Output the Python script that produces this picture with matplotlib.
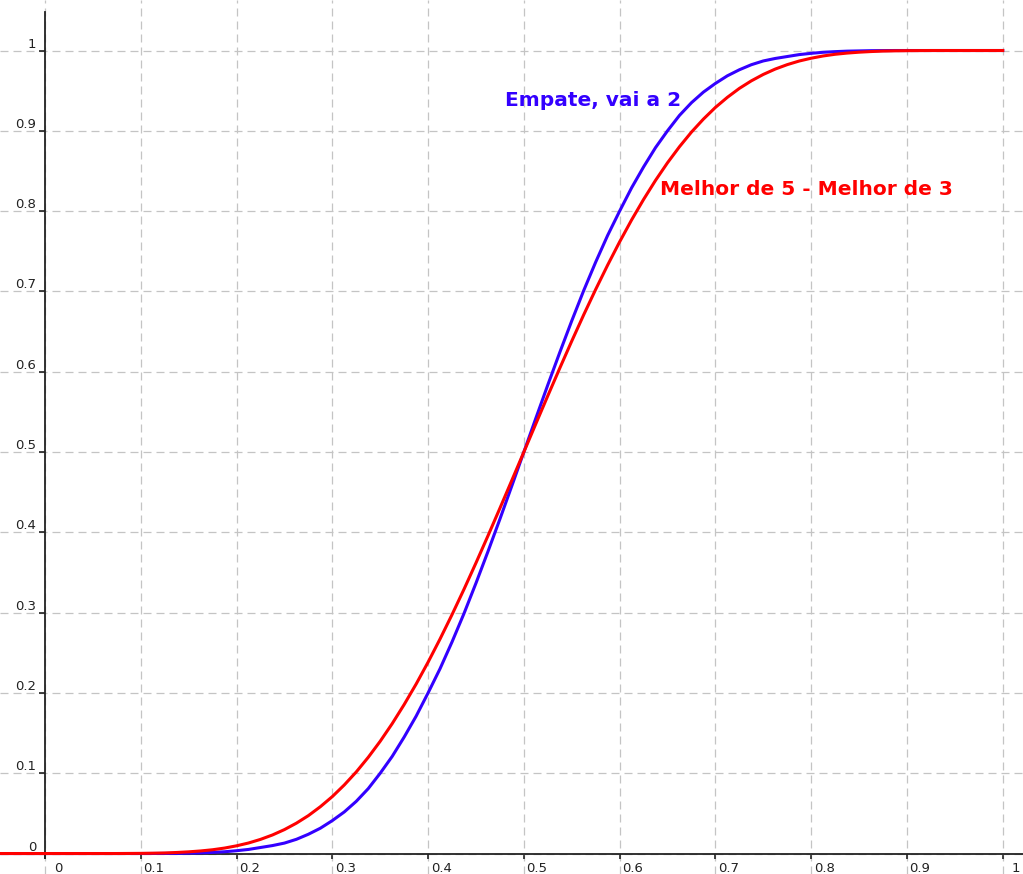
import matplotlib
matplotlib.use("Agg")
import matplotlib.pyplot as plt
from matplotlib.transforms import ScaledTranslation

# probabilities (finer steps where the curves bend)
p = [-0.05, 0.0, 0.025, 0.05, 0.075,
     0.1, 0.1125, 0.125, 0.1375, 0.15, 0.1625, 0.175, 0.1875,
     0.2, 0.2125, 0.225, 0.2375, 0.25, 0.2625, 0.275, 0.2875,
     0.3, 0.3125, 0.325, 0.3375, 0.35, 0.3625, 0.375, 0.3875,
     0.4, 0.4125, 0.425, 0.4375, 0.45, 0.4625, 0.475, 0.4875,
     0.5, 0.5125, 0.525, 0.5375, 0.55, 0.5625, 0.575, 0.5875,
     0.6, 0.6125, 0.625, 0.6375, 0.65, 0.6625, 0.675, 0.6875,
     0.7, 0.7125, 0.725, 0.7375, 0.75, 0.7625, 0.775, 0.7875,
     0.8, 0.8125, 0.825, 0.8375, 0.85, 0.8625, 0.875, 0.8875,
     0.9, 0.925, 0.95, 0.975, 1.0]
empate = [0.0, 0.0, 0.0, 0.0, 0.0,
          0.0, 0.00005, 0.0001, 0.0002, 0.0005, 0.0008, 0.0014, 0.0022,
          0.0035, 0.0051, 0.0075, 0.0099, 0.013, 0.0177, 0.024, 0.0315,
          0.041, 0.0518, 0.065, 0.0808, 0.1, 0.1209, 0.145, 0.171,
          0.2, 0.2302, 0.2635, 0.2989, 0.3367, 0.376, 0.4165, 0.458,
          0.5, 0.542, 0.5835, 0.624, 0.6633, 0.7011, 0.7365, 0.7698,
          0.8, 0.829, 0.855, 0.8791, 0.9, 0.9192, 0.935, 0.9482,
          0.959, 0.9685, 0.976, 0.9823, 0.987, 0.9901, 0.9925, 0.9949,
          0.9965, 0.9978, 0.9986, 0.9992, 0.9995, 0.9998, 0.9999, 1.0,
          1.0, 1.0, 1.0, 1.0, 1.0]
melhor = [0.0, 0.0, 0.0, 0.0, 0.0,
          0.0002, 0.0004, 0.0007, 0.0013, 0.0021, 0.0032, 0.0047, 0.0068,
          0.0096, 0.0131, 0.0176, 0.0231, 0.0298, 0.0378, 0.0472, 0.0583,
          0.0709, 0.0854, 0.1016, 0.1198, 0.1398, 0.1617, 0.1855, 0.211,
          0.2383, 0.2672, 0.2975, 0.3291, 0.3619, 0.3956, 0.43, 0.4649,
          0.5, 0.5351, 0.57, 0.6044, 0.6381, 0.6709, 0.7025, 0.7328,
          0.7617, 0.789, 0.8145, 0.8383, 0.8602, 0.8802, 0.8984, 0.9146,
          0.9291, 0.9417, 0.9528, 0.9622, 0.9702, 0.9769, 0.9824, 0.9869,
          0.9904, 0.9932, 0.9953, 0.9968, 0.9979, 0.9987, 0.9993, 0.9996,
          0.9998, 1.0, 1.0, 1.0, 1.0]

ticks = [0, 0.1, 0.2, 0.3, 0.4, 0.5, 0.6, 0.7, 0.8, 0.9, 1]
tick_labels = ["0", "0.1", "0.2", "0.3", "0.4", "0.5", "0.6", "0.7", "0.8", "0.9", "1"]

blue = "#3300ff"
red = "#ff0000"

fig = plt.figure(figsize=(10.23, 8.74), dpi=100)
ax = fig.add_axes([0, 0, 1, 1])
ax.set_xlim(-0.047, 1.0212)
ax.set_ylim(-0.0255, 1.0629)

ax.grid(True, color="#c4c4c4", linestyle=(0, (6.4, 4)), linewidth=0.9, zorder=0)
ax.set_axisbelow(True)

for s in ["top", "right"]:
    ax.spines[s].set_visible(False)
ax.spines["left"].set_position(("data", 0))
ax.spines["bottom"].set_position(("data", 0))
ax.spines["left"].set_bounds(-0.006, 1.048)
for s in ["left", "bottom"]:
    ax.spines[s].set_color("#222222")
    ax.spines[s].set_linewidth(1.3)
    ax.spines[s].set_zorder(1)

ax.set_xticks(ticks, tick_labels)
ax.set_yticks(ticks, tick_labels)
ax.tick_params(axis="x", direction="out", length=3.6, width=1.2, pad=2.3,
               labelsize=9.5, colors="#222222")
ax.tick_params(axis="y", direction="out", length=4.3, width=1.2, pad=2.0,
               labelsize=9.5, colors="#222222")

dx = ScaledTranslation(13 / 100, 0, fig.dpi_scale_trans)
for lab in ax.get_xticklabels():
    lab.set_transform(lab.get_transform() + dx)
dy = ScaledTranslation(0, 3 / 100, fig.dpi_scale_trans)
for lab in ax.get_yticklabels():
    lab.set_verticalalignment("baseline")
    lab.set_transform(lab.get_transform() + dy)

ax.plot(p, empate, color=blue, linewidth=2.2, zorder=3, solid_joinstyle="round")
ax.plot(p, melhor, color=red, linewidth=2.2, zorder=4, solid_joinstyle="round")

ax.text(0.4803, 0.9309, "Empate, vai a 2", color=blue, fontsize=14.5,
        fontweight="bold", va="baseline", ha="left", zorder=5)
ax.text(0.6422, 0.820, "Melhor de 5 - Melhor de 3", color=red, fontsize=14.5,
        fontweight="bold", va="baseline", ha="left", zorder=5)

fig.savefig("out.png", dpi=100)
